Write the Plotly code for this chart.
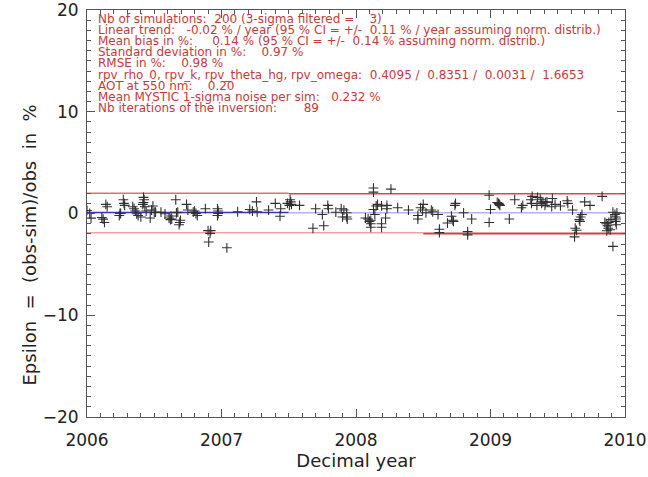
import plotly.graph_objects as go

# ---- data ----
years = [2006.00, 2006.02, 2006.03, 2006.11, 2006.12, 2006.13, 2006.14, 2006.15, 2006.24, 2006.245,
         2006.25, 2006.27, 2006.275, 2006.28, 2006.34, 2006.35, 2006.36, 2006.37, 2006.38, 2006.40,
         2006.42, 2006.425, 2006.42, 2006.415, 2006.43, 2006.44, 2006.47, 2006.49, 2006.50, 2006.48,
         2006.51, 2006.55, 2006.58, 2006.61, 2006.62, 2006.63, 2006.625, 2006.66, 2006.665, 2006.675,
         2006.69, 2006.685, 2006.695, 2006.74, 2006.75, 2006.79, 2006.80, 2006.81, 2006.82, 2006.88,
         2006.90, 2006.92, 2006.915, 2006.905, 2006.97, 2006.975, 2006.975, 2006.97, 2007.04, 2007.12,
         2007.21, 2007.23, 2007.26, 2007.265, 2007.35, 2007.40, 2007.44, 2007.435, 2007.49, 2007.51,
         2007.505, 2007.52, 2007.515, 2007.58, 2007.70, 2007.68, 2007.75, 2007.76, 2007.79, 2007.795,
         2007.85, 2007.89, 2007.91, 2007.90, 2007.93, 2007.93, 2007.935, 2008.07, 2008.09, 2008.11,
         2008.11, 2008.11, 2008.10, 2008.13, 2008.13, 2008.13, 2008.14, 2008.15, 2008.16, 2008.19,
         2008.23, 2008.23, 2008.19, 2008.19, 2008.22, 2008.26, 2008.31, 2008.39, 2008.46, 2008.46,
         2008.48, 2008.50, 2008.495, 2008.52, 2008.56, 2008.57, 2008.61, 2008.62, 2008.62, 2008.68,
         2008.71, 2008.72, 2008.725, 2008.74, 2008.735, 2008.80, 2008.83, 2008.83, 2008.86, 2008.99,
         2009.00, 2008.99, 2009.05, 2009.06, 2009.07, 2009.065, 2009.14, 2009.18, 2009.23, 2009.24,
         2009.30, 2009.31, 2009.305, 2009.35, 2009.345, 2009.37, 2009.38, 2009.39, 2009.41, 2009.42,
         2009.405, 2009.46, 2009.455, 2009.48, 2009.52, 2009.57, 2009.575, 2009.61, 2009.63, 2009.64,
         2009.625, 2009.66, 2009.67, 2009.68, 2009.665, 2009.70, 2009.74, 2009.83, 2009.85, 2009.86,
         2009.87, 2009.875, 2009.865, 2009.88, 2009.89, 2009.895, 2009.91, 2009.925, 2009.93, 2009.935,
         2009.94, 2009.93, 2009.935, 2009.91]
epsilon = [0.30, 0.00, -0.45, -0.40, -0.55, -0.88, 0.90, 0.67, -0.20, 0.00,
           0.00, 1.35, 1.00, 0.80, 0.67, 0.47, 0.24, -0.03, -0.20, -0.34,
           1.58, 1.35, 1.08, 0.90, 0.67, 0.24, -0.44, 0.74, 0.13, 0.34,
           0.13, 0.13, -0.03, -0.44, -0.60, -0.55, -0.25, 1.35, 0.07, 0.13,
           -0.88, -1.10, -0.67, 0.90, 0.34, 0.13, 0.24, 0.00, -0.20, 0.47,
           -1.68, -1.68, -1.95, -2.80, 0.47, 0.24, 0.00, -0.20, -3.37, 0.17,
           0.40, 0.24, 1.14, 0.17, 0.34, 1.00, 0.47, -0.27, 1.00, 1.35,
           0.80, 0.90, 1.14, 0.80, 0.47, -1.45, -0.10, -1.20, 0.80, 0.47,
           0.13, 0.47, 0.34, -0.34, -0.34, 0.07, -0.54, -0.44, -0.54, -0.67,
           -1.00, -1.35, -0.77, 2.50, 2.10, 0.40, -0.10, 0.74, 0.90, 0.74,
           0.80, 0.47, -1.00, -1.35, -0.44, 2.40, 0.57, 0.34, -0.20, -0.54,
           0.57, 0.90, 0.34, 0.07, 0.34, 0.17, -0.10, -1.55, -1.88, -0.94,
           -0.27, -0.67, -0.77, 1.00, 0.80, 0.07, -1.78, -2.10, -0.54, 1.80,
           0.40, -0.88, 1.08, 1.00, 0.80, 0.90, -0.54, 1.35, 0.57, 0.80,
           1.35, 1.68, 1.00, 1.58, 0.80, 1.40, 1.00, 1.14, 1.08, 1.14,
           0.80, 1.48, 0.67, 0.90, 0.74, 1.25, 1.00, 0.34, -1.45, -1.65,
           -2.30, -0.60, -0.34, -0.10, -0.77, 1.14, 0.80, 1.68, -0.88, -1.00,
           -1.20, -1.45, -1.70, -0.88, -1.60, -0.60, 0.13, -0.10, -0.34, -0.54,
           0.07, -0.77, -1.10, -3.23]

# reference lines (segments)
upper_a_x = [2006.0, 2007.5]
upper_a_y = [2.0, 2.0]
upper_b_x = [2007.5, 2010.0]
upper_b_y = [1.93, 1.93]
lower_a_x = [2006.0, 2008.5]
lower_a_y = [-1.9, -1.9]
lower_b_x = [2008.5, 2010.0]
lower_b_y = [-1.97, -1.97]
mean_a_x = [2006.0, 2007.5]
mean_a_y = [0.1, 0.1]
mean_b_x = [2007.5, 2010.0]
mean_b_y = [0.08, 0.08]

info_lines = [
    "Nb of simulations:  200 (3-sigma filtered =    3)",
    "Linear trend:   -0.02 % / year (95 % CI = +/-  0.11 % / year assuming norm. distrib.)",
    "Mean bias in %:     0.14 % (95 % CI = +/-  0.14 % assuming norm. distrib.)",
    "Standard deviation in %:    0.97 %",
    "RMSE in %:    0.98 %",
    "rpv_rho_0, rpv_k, rpv_theta_hg, rpv_omega:  0.4095 /  0.8351 /  0.0031 /  1.6653",
    "AOT at 550 nm:    0.20",
    "Mean MYSTIC 1-sigma noise per sim:   0.232 %",
    "Nb iterations of the inversion:       89",
]

x_title = "Decimal year"
y_title = "Epsilon  =  (obs-sim)/obs  in  %"

x_range = [2006, 2010]
y_range = [-20, 20]

TEXT_RED = "#c53b3b"
FONT = "DejaVu Sans"

fig = go.Figure()

for xs, ys, col, w in [
    (lower_a_x, lower_a_y, "#eaa2a2", 1.5),
    (lower_b_x, lower_b_y, "#cf4040", 2),
    (upper_a_x, upper_a_y, "#df7070", 1.5),
    (upper_b_x, upper_b_y, "#d44a4a", 1.5),
    (mean_a_x, mean_a_y, "#3434c4", 1.5),
    (mean_b_x, mean_b_y, "#b4b4ea", 1.5),
]:
    fig.add_trace(go.Scatter(x=xs, y=ys, mode="lines", line=dict(color=col, width=w),
                             showlegend=False, hoverinfo="skip"))

fig.add_trace(go.Scatter(
    x=years, y=epsilon, mode="markers",
    marker=dict(symbol="cross-thin", size=7, line=dict(color="#303030", width=1.1)),
    showlegend=False))

# info text
for i, t in enumerate(info_lines):
    fig.add_annotation(
        x=0.0, xref="paper", xanchor="left", xshift=9,
        y=1.0, yref="paper", yanchor="middle", yshift=-(9 + i * 11.1),
        text=t.replace(" ", "\u00a0"), showarrow=False,
        font=dict(family=FONT, size=12, color=TEXT_RED))

# y title as rotated annotation (positioned like the reference)
fig.add_annotation(
    x=0.0, xref="paper", xanchor="center", xshift=-58,
    y=0.5, yref="paper", yanchor="middle", yshift=-32,
    text=y_title.replace(" ", "\u00a0"), textangle=-90, showarrow=False,
    font=dict(family=FONT, size=18, color="#222222"))

axis_common = dict(
    showline=True, linecolor="#555555", linewidth=1, mirror="allticks",
    ticks="inside", ticklen=8, tickcolor="#555555", tickwidth=1,
    showgrid=False, zeroline=False, automargin=False,
    ticklabeloverflow="allow",
    tickfont=dict(family=FONT, size=17, color="#222222"),
)

fig.update_xaxes(range=x_range, tick0=2006, dtick=1, ticklabelstandoff=8,
                 minor=dict(dtick=0.1, ticks="inside", ticklen=4, tickcolor="#555555", showgrid=False),
                 title=dict(text=x_title, font=dict(family=FONT, size=18, color="#222222"), standoff=2),
                 **axis_common)
fig.update_yaxes(range=y_range, tick0=-20, dtick=10, ticklabelstandoff=4,
                 minor=dict(dtick=1, ticks="inside", ticklen=4, tickcolor="#555555", showgrid=False),
                 **axis_common)

fig.update_layout(
    width=648, height=477,
    margin=dict(l=87, r=23, t=10, b=60),
    paper_bgcolor="white", plot_bgcolor="white",
)

fig.write_html("out.html")
